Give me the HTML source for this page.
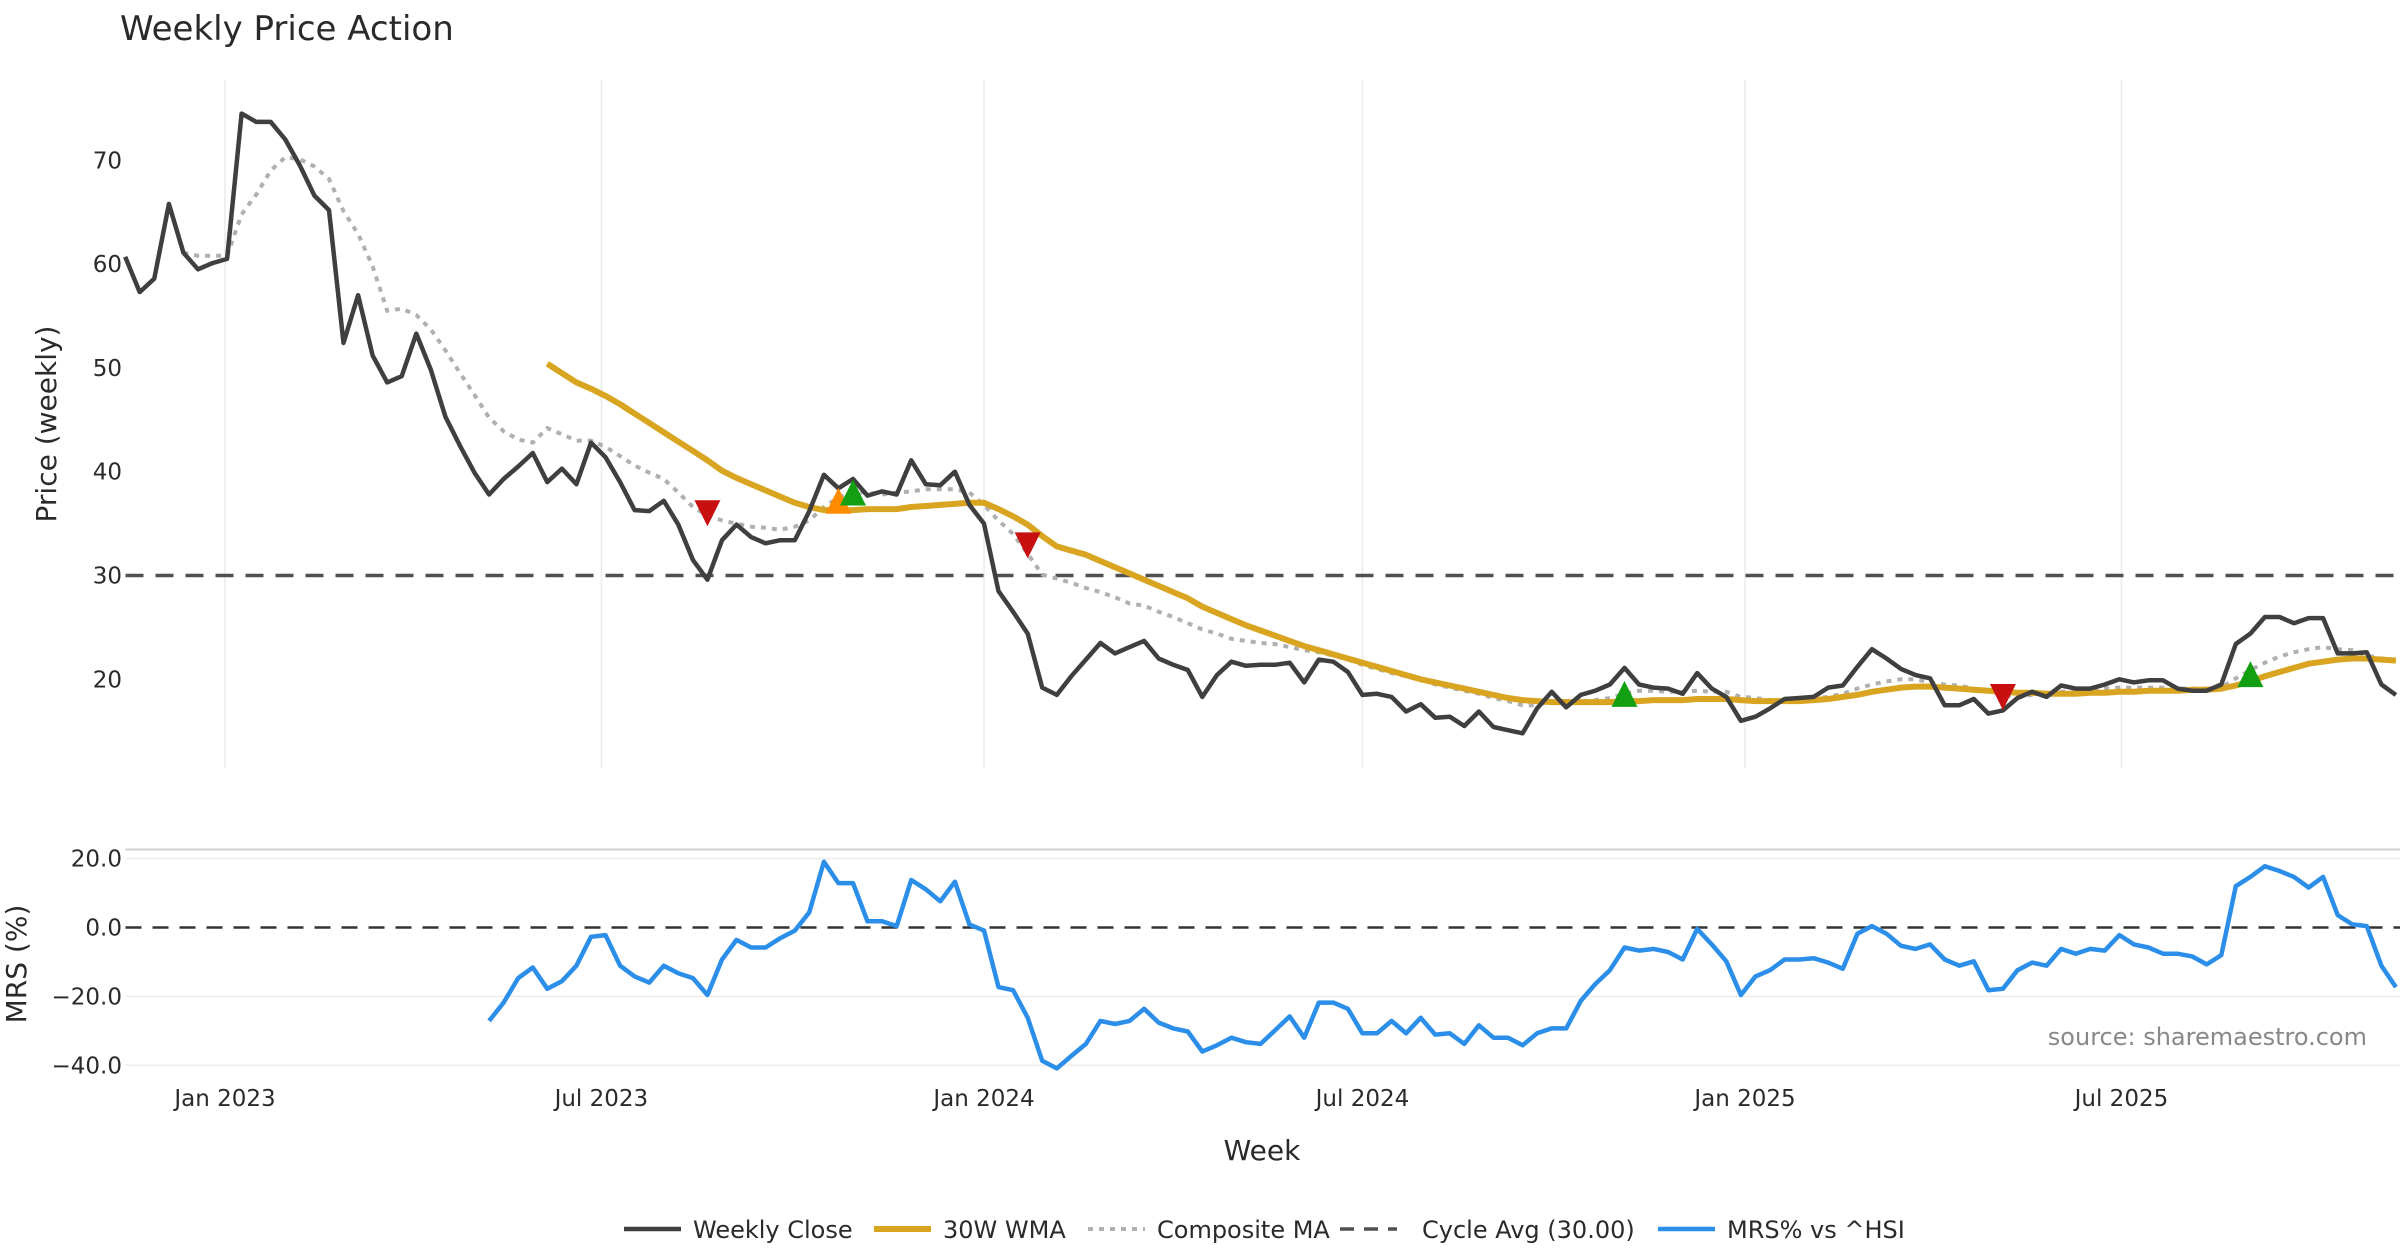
<!DOCTYPE html>
<html><head><meta charset="utf-8"><style>
html,body{margin:0;padding:0;background:#fff;}
svg{display:block;font-family:"DejaVu Sans","Liberation Sans",sans-serif;}
</style></head><body>
<svg id="chart" width="2400" height="1260" viewBox="0 0 2400 1260" xmlns="http://www.w3.org/2000/svg">
<text x="120" y="40" font-size="34" fill="#2a2a2a">Weekly Price Action</text>
<g id="price"></g>
<g id="mrs"></g>
<g id="xaxis"></g>
<text transform="translate(56,424) rotate(-90)" text-anchor="middle" font-size="28" fill="#2a2a2a">Price (weekly)</text>
<text transform="translate(26,964) rotate(-90)" text-anchor="middle" font-size="28" fill="#2a2a2a">MRS (%)</text>
<text x="1262" y="1160" text-anchor="middle" font-size="28" fill="#2a2a2a">Week</text>
<text x="2367" y="1045" text-anchor="end" font-size="24" fill="#888">source: sharemaestro.com</text>
<g id="legend"></g>
</svg>
<script>
const startDate = "2022-11-14";
const closeVals = [60.7,57.3,58.6,65.8,61.1,59.5,60.1,60.5,74.5,73.7,
73.7,72,69.5,66.6,65.2,52.4,57,51.2,48.6,49.2,
53.3,49.8,45.3,42.5,39.9,37.8,39.3,40.5,41.8,39,
40.3,38.8,42.8,41.4,39,36.3,36.2,37.2,34.9,31.5,
29.6,33.4,34.9,33.7,33.1,33.4,33.4,36.2,39.7,38.4,
39.3,37.7,38.1,37.8,41.1,38.8,38.7,40,36.8,35,
28.5,26.5,24.4,19.2,18.5,20.3,21.9,23.5,22.5,23.1,
23.7,22,21.4,20.9,18.3,20.4,21.7,21.3,21.4,21.4,
21.6,19.7,21.9,21.7,20.7,18.5,18.6,18.3,16.9,17.6,
16.3,16.4,15.5,16.9,15.4,15.1,14.8,17.2,18.8,17.3,
18.5,18.9,19.5,21.1,19.5,19.2,19.1,18.6,20.6,19.1,
18.3,16,16.4,17.2,18.1,18.2,18.3,19.2,19.4,21.2,
22.9,22,21,20.4,20.1,17.5,17.5,18.1,16.7,17,
18.2,18.8,18.3,19.4,19.1,19.1,19.5,20,19.7,19.9,
19.9,19.1,18.9,18.9,19.5,23.4,24.4,26,26,25.4,
25.9,25.9,22.5,22.5,22.6,19.5,18.5];
const wmaStart = 29;
const wmaVals = [50.4,49.5,48.6,48.0,47.3,46.5,45.6,44.7,43.8,42.9,42.0,41.1,40.1,39.4,38.8,38.2,37.6,37.0,36.6,36.3,
36.3,36.3,36.4,36.4,36.4,36.6,36.7,36.8,36.9,37.0,37.0,36.4,35.7,34.9,33.8,32.8,32.4,32.0,31.4,30.8,
30.2,29.6,29.0,28.4,27.8,27.0,26.4,25.8,25.2,24.7,24.2,23.7,23.2,22.8,22.4,22.0,21.6,21.2,20.8,20.4,
20.0,19.7,19.4,19.1,18.8,18.5,18.2,18.0,17.9,17.8,17.8,17.8,17.8,17.8,17.9,17.9,18.0,18.0,18.0,18.1,
18.1,18.1,18.0,17.9,17.9,17.9,17.9,18.0,18.1,18.3,18.5,18.8,19.0,19.2,19.3,19.3,19.2,19.1,19.0,18.9,
18.8,18.7,18.7,18.6,18.6,18.6,18.7,18.7,18.8,18.8,18.9,18.9,18.9,19.0,19.0,19.1,19.4,19.8,20.3,20.7,
21.1,21.5,21.7,21.9,22.0,22.0,21.9,21.8];
const compStart = 4;
const compVals = [61.1,60.8,60.8,60.8,64.8,66.7,69,70.3,70.1,69.4,68.2,65.1,62.9,59.8,55.5,55.7,55.1,53.7,51.7,49.5,
47.4,45.2,43.9,43.1,42.8,44.2,43.6,43,43,42.4,41.5,40.6,39.9,39.3,38,36.6,35.8,35.3,35,34.7,
34.6,34.4,34.7,35.3,36.6,37.5,38,38,37.8,38,38.1,38.3,38.3,38.3,38,36.8,35.3,34,32.1,30.1,
29.7,29.3,28.8,28.4,27.9,27.3,27.1,26.5,26,25.4,24.8,24.4,23.9,23.7,23.5,23.4,23.1,22.8,22.6,22.3,
21.9,21.4,21,20.6,20.3,20,19.5,19.2,18.9,18.6,18.2,17.9,17.5,17.5,17.9,17.9,17.9,18,18.2,18.6,
18.9,18.9,18.8,18.8,18.9,18.8,18.8,18.3,18.2,18,18,18.2,18.2,18.3,18.6,19.1,19.5,19.8,20,20,
19.7,19.5,19.4,19.1,18.8,18.5,18.3,18.5,18.6,18.8,18.9,18.9,19.1,19.2,19.2,19.2,19.2,19.1,19.1,19.1,
19.2,20.1,20.9,21.6,22.2,22.6,22.9,23.1,22.9,22.8,22.3,22,21.9];
const mrsStart = 25;
const mrsVals = [-27.1,-21.8,-14.7,-11.6,-17.8,-15.6,-11.1,-2.7,-2.2,-11.1,-14.2,-16,-11.1,-13.3,-14.7,-19.6,-9.3,-3.6,-5.8,-5.8,
-3.1,-0.9,4.4,19.1,12.9,12.9,1.8,1.8,0.4,13.8,11.1,7.6,13.3,0.9,-0.9,-17.3,-18.2,-26.2,-38.7,-40.9,
-37.3,-33.8,-27.1,-28,-27.1,-23.6,-27.6,-29.3,-30.2,-36,-34.2,-32,-33.3,-33.8,-29.8,-25.8,-32,-21.8,-21.8,-23.6,
-30.7,-30.7,-27.1,-30.7,-26.2,-31.1,-30.7,-33.8,-28.4,-32,-32,-34.2,-30.7,-29.3,-29.3,-21.3,-16.4,-12.4,-5.8,-6.7,
-6.2,-7.1,-9.3,-0.4,-4.9,-9.8,-19.6,-14.2,-12.4,-9.3,-9.3,-8.9,-10.2,-12,-1.8,0.4,-1.8,-5.3,-6.2,-4.9,
-9.3,-11.1,-9.8,-18.2,-17.8,-12.4,-10.2,-11.1,-6.2,-7.6,-6.2,-6.7,-2.2,-4.9,-5.8,-7.6,-7.6,-8.4,-10.7,-8,
12,14.7,17.8,16.4,14.7,11.6,14.7,3.6,0.9,0.4,-11.1,-17.3];
const signalIdx = [40,49,50,62,103,129,146];
const signalVals = [36.0,37.2,38.0,32.9,18.6,18.3,20.5];
const signalType = ["sell","warn","buy","sell","buy","sell","buy"];
const cycleAvg = 30;
const priceTicks = [20,30,40,50,60,70];
const mrsTicks = [20,0,-20,-40];
const xTickDates = ["2023-01-01","2023-07-01","2024-01-01","2024-07-01","2025-01-01","2025-07-01"];
const xTickLabels = ["Jan 2023","Jul 2023","Jan 2024","Jul 2024","Jan 2025","Jul 2025"];

const NS="http://www.w3.org/2000/svg";
const DAY=86400000;
const t0=Date.parse("2023-01-01");
const pxPerDay=(9.51*1.5306)/7;
const X0=147*1.5306;
function xDate(ms){return X0+(ms-t0)/DAY*pxPerDay;}
function xIdx(i){return xDate(Date.parse(startDate)+i*7*DAY);}
function yP(v){return 575.5-(v-30)*10.38;}
function yM(v){return 927.5-v*3.445;}
function mk(tag,attrs,parent){const e=document.createElementNS(NS,tag);for(const k in attrs)e.setAttribute(k,attrs[k]);parent.appendChild(e);return e;}
const P=document.getElementById('price'),M=document.getElementById('mrs'),XA=document.getElementById('xaxis'),L=document.getElementById('legend');
const plotLeft=125.5,plotRight=2400;

xTickDates.forEach((d,k)=>{
  const x=xDate(Date.parse(d));
  const g=mk('line',{x1:x,x2:x,y1:80,y2:768,stroke:'#ebebeb','stroke-width':1.5},P);
  
  
  const t=mk('text',{x:x,y:1106,'text-anchor':'middle','font-size':23,fill:'#2a2a2a'},XA);
  t.textContent=xTickLabels[k];
  
  
});
priceTicks.forEach(v=>{
  const t=mk('text',{x:122,y:yP(v)+8,'text-anchor':'end','font-size':23,fill:'#2a2a2a'},P);
  t.textContent=v;
  
  
});
const cy=mk('line',{x1:plotLeft,x2:plotRight,y1:yP(cycleAvg),y2:yP(cycleAvg),stroke:'#505050','stroke-width':3.5,'stroke-dasharray':'18,12'},P);



function path(vals,start,yf){return vals.map((v,i)=>(i?'L':'M')+xIdx(start+i).toFixed(1)+','+yf(v).toFixed(1)).join('');}
const comp=mk('path',{d:path(compVals,compStart,yP),fill:'none',stroke:'#b0b0b0','stroke-width':4,'stroke-dasharray':'5,6'},P);


const wma=mk('path',{d:path(wmaVals,wmaStart,yP),fill:'none',stroke:'#d9a521','stroke-width':6,'stroke-linejoin':'round'},P);


const cl=mk('path',{d:path(closeVals,0,yP),fill:'none',stroke:'#3f3f3f','stroke-width':4.5,'stroke-linejoin':'round'},P);


signalIdx.forEach((idx,k)=>{
  const x=xIdx(idx),y=yP(signalVals[k]),s=13;
  const tp=signalType[k];
  const col=tp==='sell'?'#c81010':tp==='buy'?'#12a012':'#ff8c00';
  const pts=tp==='sell'?`${x-s},${y-s} ${x+s},${y-s} ${x},${y+s}`:`${x-s},${y+s} ${x+s},${y+s} ${x},${y-s}`;
  const m=mk('polygon',{points:pts,fill:col},P);
  
  
});

const mrsBorder=mk('line',{x1:plotLeft,x2:plotRight,y1:849.5,y2:849.5,stroke:'#cfcfcf','stroke-width':2},M);


mrsTicks.forEach(v=>{
  if(v!==0){const g=mk('line',{x1:plotLeft,x2:plotRight,y1:yM(v),y2:yM(v),stroke:'#ececec','stroke-width':1.5},M);
  
  }
  const t=mk('text',{x:122,y:yM(v)+8,'text-anchor':'end','font-size':23,fill:'#2a2a2a'},M);
  t.textContent=(v<0?'\u2212'+Math.abs(v).toFixed(1):v.toFixed(1));
  
  
});
const z=mk('line',{x1:plotLeft,x2:plotRight,y1:yM(0),y2:yM(0),stroke:'#333','stroke-width':2.5,'stroke-dasharray':'16,11'},M);


const ml=mk('path',{d:path(mrsVals,mrsStart,yM),fill:'none',stroke:'#2b8ee8','stroke-width':4.5,'stroke-linejoin':'round'},M);



const items=[['Weekly Close',624,693,'#3f3f3f',4.5,''],['30W WMA',874,943,'#d9a521',6,''],['Composite MA',1088,1157,'#b0b0b0',4,'5,6'],['Cycle Avg (30.00)',1340,1422,'#505050',3.5,'14,10'],['MRS% vs ^HSI',1658,1727,'#2b8ee8',4.5,'']];
items.forEach(it=>{
  const g=mk('g',{},L);
  
  
  const a={x1:it[1],x2:it[1]+57,y1:1229,y2:1229,stroke:it[3],'stroke-width':it[4]};
  if(it[5])a['stroke-dasharray']=it[5];
  mk('line',a,g);
  const t=mk('text',{x:it[2],y:1238,'font-size':24,fill:'#2a2a2a'},g);
  t.textContent=it[0];
});
</script>
</body></html>
